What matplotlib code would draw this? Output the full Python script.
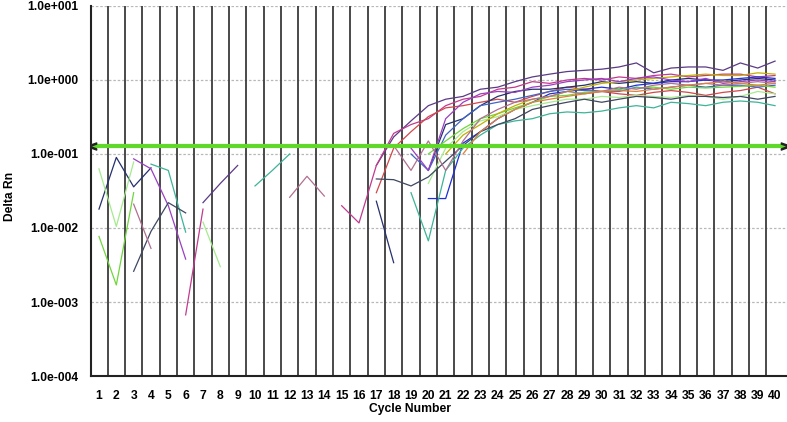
import numpy as np
import matplotlib.pyplot as plt

n = np.nan

cycles = np.arange(1, 41)
threshold = 0.13

# Delta Rn per well (nan = not shown on the log scale)
well_purple = [n, n, n, n, n, n, 0.022, 0.04, 0.07, n,
               n, n, n, n, n, n, 0.07, 0.17, 0.28, 0.45,
               0.55, 0.6, 0.75, 0.8, 0.95, 1.1, 1.2, 1.3, 1.35, 1.4,
               1.5, 1.7, 1.25, 1.45, 1.5, 1.5, 1.35, 1.7, 1.45, 1.8]
well_magenta = [n, n, n, n, n, 0.00067, 0.018, n, n, n,
                n, n, n, n, 0.02, 0.0117, 0.07, 0.19, 0.25, 0.3,
                0.45, 0.55, 0.6, 0.75, 0.8, 0.95, 0.9, 1.0, 1.05, 1.0,
                1.1, 1.05, 1.15, 1.2, 1.1, 1.15, 1.2, 1.2, 1.1, 1.15]
well_red = [n, n, n, n, n, n, n, n, n, n,
            n, n, n, n, n, n, 0.03, 0.12, 0.2, 0.32,
            0.42, 0.45, 0.5, 0.55, 0.5, 0.6, 0.7, 0.8, 0.75, 0.7,
            0.65, 0.62, 0.68, 0.72, 0.68, 0.62, 0.68, 0.72, 0.8, 0.65]
well_navy = [0.018, 0.09, 0.036, 0.065, n, n, n, n, n, n,
             n, n, n, n, n, n, 0.023, 0.0034, n, 0.06,
             0.25, 0.3, 0.45, 0.6, 0.7, 0.75, 0.75, 0.8, 0.85, 0.95,
             0.9, 0.95, 0.9, 1.0, 1.05, 1.0, 0.95, 1.0, 1.05, 1.0]
well_blue = [n, n, n, n, n, n, n, n, n, n,
             n, n, n, n, n, n, n, n, n, 0.025,
             0.025, 0.14, 0.2, 0.3, 0.4, 0.5, 0.65, 0.7, 0.75, 0.8,
             0.75, 0.85, 0.9, 0.95, 0.95, 1.0, 1.0, 1.05, 1.1, 1.05]
well_midblue = [n, n, n, n, n, n, n, n, n, n,
                n, n, n, n, n, n, n, n, 0.1, 0.06,
                0.18, 0.3, 0.45, 0.5, 0.55, 0.62, 0.7, 0.75, 0.72, 0.7,
                0.7, 0.8, 0.75, 0.8, 0.85, 0.8, 0.85, 0.85, 0.8, 0.85]
well_lightgreen = [0.063, 0.0105, 0.078, n, n, n, 0.012, 0.003, n, n,
                   n, n, n, n, n, n, n, n, n, 0.04,
                   0.12, 0.2, 0.28, 0.32, 0.4, 0.45, 0.5, 0.55, 0.55, 0.6,
                   0.58, 0.62, 0.6, 0.58, 0.62, 0.6, 0.55, 0.6, 0.7, 0.65]
well_lime = [0.0077, 0.0017, 0.03, n, n, n, n, n, n, n,
             n, n, n, n, n, n, n, n, n, 0.1,
             0.15, 0.22, 0.3, 0.35, 0.42, 0.5, 0.6, 0.62, 0.68, 0.7,
             0.75, 0.78, 0.8, 0.75, 0.8, 0.78, 0.8, 0.82, 0.85, 0.8]
well_teal = [n, n, n, 0.073, 0.06, 0.0088, n, n, n, 0.037,
             0.06, 0.1, n, n, n, n, n, n, 0.03, 0.0067,
             0.06, 0.12, 0.18, 0.25, 0.28, 0.3, 0.35, 0.37, 0.36, 0.38,
             0.42, 0.45, 0.42, 0.5, 0.48, 0.45, 0.5, 0.52, 0.5, 0.45]
well_olive = [n, n, n, n, n, n, n, n, n, n,
              n, n, n, n, n, n, n, n, n, n,
              0.1, 0.18, 0.25, 0.35, 0.45, 0.55, 0.6, 0.7, 0.8, 0.9,
              0.95, 1.0, 1.05, 1.1, 1.15, 1.2, 1.15, 1.15, 1.25, 1.2]
well_violet = [n, n, 0.086, 0.063, 0.02, 0.0038, n, n, n, n,
               n, n, n, n, n, n, n, n, 0.12, 0.06,
               0.3, 0.5, 0.65, 0.7, 0.68, 0.8, 0.85, 0.95, 1.0, 1.05,
               0.95, 1.05, 1.1, 1.0, 0.95, 1.05, 0.9, 0.95, 1.0, 0.95]
well_slate = [n, n, 0.0026, 0.009, 0.022, 0.016, n, n, n, n,
              n, n, n, n, n, n, 0.046, 0.045, 0.037, 0.049,
              0.08, 0.13, 0.2, 0.25, 0.3, 0.4, 0.45, 0.5, 0.55, 0.5,
              0.55, 0.6, 0.58, 0.55, 0.6, 0.6, 0.58, 0.6, 0.55, 0.6]
well_mauve = [n, n, 0.021, 0.0053, n, n, n, n, n, n,
              n, 0.026, 0.05, 0.027, n, n, n, 0.13, 0.06, 0.15,
              0.06, 0.15, 0.3, 0.4, 0.5, 0.55, 0.6, 0.7, 0.65, 0.7,
              0.8, 0.75, 0.85, 0.9, 0.85, 0.9, 0.85, 0.9, 0.95, 0.9]
well_orange = [n, n, n, n, n, n, n, n, n, n,
               n, n, n, n, n, n, n, n, n, n,
               n, 0.1, 0.2, 0.3, 0.4, 0.5, 0.55, 0.6, 0.65, 0.7,
               0.72, 0.7, 0.75, 0.8, 0.85, 0.9, 0.95, 0.9, 0.85, 0.9]

wells = [
    (well_purple, "#5b3a86"),
    (well_magenta, "#c23a8e"),
    (well_red, "#d4474a"),
    (well_navy, "#26306e"),
    (well_blue, "#1f2fd6"),
    (well_midblue, "#3f66c6"),
    (well_lightgreen, "#a6ea8e"),
    (well_lime, "#6fd63c"),
    (well_teal, "#3db497"),
    (well_olive, "#c2b000"),
    (well_violet, "#9a3fc2"),
    (well_slate, "#3f4862"),
    (well_mauve, "#b07090"),
    (well_orange, "#e0803c"),
]

plt.rcParams["font.family"] = ["Liberation Sans", "DejaVu Sans"]

fig = plt.figure(figsize=(7.87, 4.22), dpi=100)
ax = fig.add_axes([0.1156, 0.109, 0.8844, 0.8768])

ax.set_yscale("log")
ax.set_xlim(0.538, 40.69)
ax.set_ylim(1e-4, 1e1)

# decade grid lines
for e in range(-3, 2):
    ax.axhline(10.0 ** e, color="#b8b8b8", lw=0.9, ls=(0, (2, 1.5)), zorder=1)

# cycle separators
for c in cycles[:-1]:
    ax.axvline(c + 0.5, color="#3c3c3c", lw=1.3, zorder=2)

for vals, col in wells:
    ax.plot(cycles, np.array(vals, dtype=float), color=col, lw=0.9, zorder=3)

ax.axhline(threshold, color="#5fd82a", lw=3, zorder=4)
ax.plot([0.62], [threshold], marker="$<$", color="#222222", ms=6, zorder=5)
ax.plot([40.6], [threshold], marker="$>$", color="#222222", ms=6, zorder=5)

ax.set_xticks(cycles)
ax.set_xticklabels([str(c) for c in cycles], fontsize=8.7, fontweight="bold")
ax.set_yticks([1e-4, 1e-3, 1e-2, 1e-1, 1e0, 1e1])
ax.set_yticklabels(["1.0e-004", "1.0e-003", "1.0e-002", "1.0e-001",
                    "1.0e+000", "1.0e+001"], fontsize=8.7, fontweight="bold")
ax.minorticks_off()
ax.tick_params(axis="both", length=0)
ax.tick_params(axis="x", pad=10)
ax.tick_params(axis="y", pad=9)

ax.set_xlabel("Cycle Number", fontsize=8.7, fontweight="bold")
ax.xaxis.set_label_coords(0.458, -0.09)
ax.xaxis.label.set_va("center")
ax.set_ylabel("Delta Rn", fontsize=8.7, fontweight="bold")
ax.yaxis.set_label_coords(-0.116, 0.486)
ax.yaxis.label.set_va("center")

for s in ["top", "right"]:
    ax.spines[s].set_visible(False)
for s in ["left", "bottom"]:
    ax.spines[s].set_color("#222222")
    ax.spines[s].set_linewidth(1.5)

plt.savefig("out.png", dpi=100)
